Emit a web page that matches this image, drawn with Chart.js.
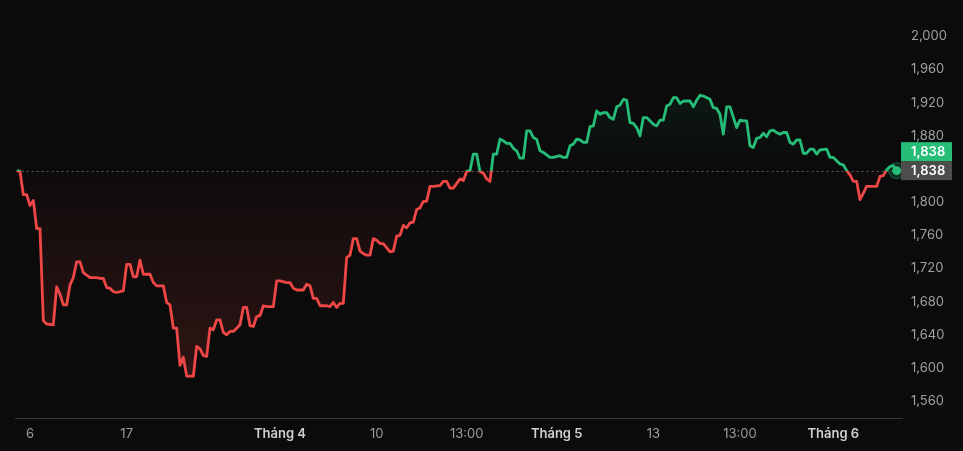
<!DOCTYPE html>
<html lang="vi">
<head>
<meta charset="utf-8">
<title>Biểu đồ giá</title>
<script src="https://cdn.jsdelivr.net/npm/chart.js@4.4.1/dist/chart.umd.min.js"></script>
<style>
    html, body { margin: 0; padding: 0; background: #0b0b0b; }
    .chart-wrap { position: relative; width: 963px; height: 451px; }
</style>
</head>
<body>
<div class="chart-wrap"><canvas id="priceChart"></canvas></div>
<script>
/* ========================================================================
   Price chart (baseline style) — data
   ======================================================================== */

// bar position on the time axis (one unit = one bar)
const barIndex = [
    0, 1, 2, 3, 4, 5, 6, 7, 8, 9,
    11, 12, 13, 14, 15, 16, 17, 18, 19, 20,
    22, 24, 25, 26, 27, 28, 29, 30, 32, 33,
    34, 35, 36, 37, 38, 40, 41, 42, 44, 45,
    46, 47, 48, 49, 50, 51, 53, 54, 55, 56,
    57, 58, 59, 60, 61, 62, 63, 64, 65, 66,
    67, 68, 69, 70, 71, 72, 73, 74, 75, 77,
    78, 79, 81, 82, 83, 84, 86, 87, 88, 89,
    90, 91, 93, 94, 95, 96, 97, 98, 99, 100,
    101, 102, 103, 104, 105, 106, 107, 108, 109, 110,
    112, 113, 114, 115, 116, 117, 118, 119, 120, 121,
    122, 123, 124, 125, 127, 128, 129, 130, 131, 133,
    134, 135, 136, 137, 138, 139, 140, 141, 142, 143,
    144, 145, 146, 147, 148, 149, 150, 151, 152, 153,
    154, 155, 156, 157, 158, 160, 161, 163, 164, 165,
    166, 167, 168, 169, 170, 171, 172, 173, 174, 175,
    176, 177, 178, 179, 180, 181, 182, 183, 184, 185,
    186, 187, 188, 189, 191, 192, 193, 194, 195, 196,
    197, 198, 199, 200, 202, 203, 204, 205, 206, 208,
    209, 210, 211, 212, 213, 214, 216, 217, 218, 219,
    220, 221, 222, 223, 224, 225, 226, 227, 228, 229,
    230, 231, 232, 233, 234, 235, 236, 237, 238, 239,
    240, 241, 243, 244, 245, 247, 248, 249, 250, 251,
    252, 253, 254, 255, 258, 259, 260, 261, 262, 263, 264
];

const prices = [
    1838, 1837, 1809, 1809, 1796, 1802, 1768, 1768, 1657, 1653,
    1652, 1698, 1689, 1676, 1676, 1700, 1709, 1728, 1728, 1715,
    1709, 1709, 1708, 1708, 1697, 1696, 1692, 1691, 1693, 1725,
    1725, 1710, 1710, 1730, 1713, 1713, 1703, 1699, 1699, 1679,
    1676, 1648, 1648, 1603, 1613, 1590, 1590, 1626, 1623, 1615,
    1614, 1648, 1646, 1658, 1658, 1643, 1640, 1644, 1644, 1648,
    1652, 1673, 1673, 1651, 1650, 1662, 1663, 1675, 1674, 1674,
    1705, 1705, 1703, 1703, 1696, 1694, 1694, 1701, 1699, 1684,
    1684, 1675, 1675, 1674, 1679, 1673, 1678, 1678, 1733, 1736,
    1756, 1756, 1741, 1738, 1736, 1736, 1756, 1754, 1750, 1750,
    1740, 1741, 1759, 1760, 1772, 1769, 1775, 1776, 1791, 1793,
    1801, 1801, 1819, 1819, 1820, 1825, 1825, 1817, 1817, 1828,
    1826, 1837, 1838, 1858, 1858, 1837, 1835, 1828, 1825, 1858,
    1858, 1876, 1874, 1871, 1871, 1865, 1862, 1853, 1853, 1886,
    1886, 1878, 1876, 1862, 1860, 1854, 1854, 1856, 1854, 1854,
    1868, 1870, 1876, 1875, 1872, 1872, 1891, 1892, 1910, 1906,
    1908, 1908, 1902, 1900, 1915, 1917, 1924, 1923, 1896, 1895,
    1890, 1880, 1902, 1902, 1894, 1892, 1899, 1899, 1916, 1918,
    1926, 1926, 1919, 1922, 1922, 1915, 1923, 1929, 1928, 1924,
    1914, 1913, 1906, 1882, 1915, 1915, 1890, 1899, 1898, 1898,
    1868, 1866, 1877, 1878, 1883, 1879, 1886, 1887, 1884, 1882,
    1884, 1884, 1872, 1870, 1875, 1875, 1859, 1859, 1864, 1864,
    1858, 1863, 1864, 1854, 1854, 1846, 1845, 1838, 1833, 1825,
    1825, 1803, 1811, 1819, 1819, 1831, 1832, 1839, 1843, 1844, 1838
];

const baseline = 1838;

const xTickPositions = [4, 33, 79, 108, 135, 162, 191, 217, 245];
const xTickLabels = ['6', '17', 'Tháng 4', '10', '13:00', 'Tháng 5', '13', '13:00', 'Tháng 6'];

const yTicks = [1560, 1600, 1640, 1680, 1720, 1760, 1800, 1880, 1920, 1960, 2000];

const GREEN = '#25bd78';
const RED = '#ef4646';

/* ========================================================================
   Helpers
   ======================================================================== */

function baseRatio(chart) {
    const { chartArea, scales } = chart;
    const y0 = scales.y.getPixelForValue(baseline);
    const t = (y0 - chartArea.top) / (chartArea.bottom - chartArea.top);
    return Math.min(1, Math.max(0, t));
}

function splitLineColor(ctx) {
    const chart = ctx.chart;
    if (!chart.chartArea) return GREEN;
    const { top, bottom } = chart.chartArea;
    const t = baseRatio(chart);
    const g = chart.ctx.createLinearGradient(0, top, 0, bottom);
    g.addColorStop(0, GREEN);
    g.addColorStop(t, GREEN);
    g.addColorStop(t, RED);
    g.addColorStop(1, RED);
    return g;
}

function splitFillColor(ctx) {
    const chart = ctx.chart;
    if (!chart.chartArea) return 'transparent';
    const { top, bottom } = chart.chartArea;
    const t = baseRatio(chart);
    const g = chart.ctx.createLinearGradient(0, top, 0, bottom);
    g.addColorStop(0, 'rgba(37,189,120,0.16)');
    g.addColorStop(t, 'rgba(37,189,120,0.0)');
    g.addColorStop(t, 'rgba(239,70,70,0.02)');
    g.addColorStop(1, 'rgba(239,70,70,0.19)');
    return g;
}

// dashed baseline, under the line
const baselinePlugin = {
    id: 'baselinePlugin',
    beforeDatasetsDraw(chart) {
        const { ctx, chartArea, scales } = chart;
        const y = Math.round(scales.y.getPixelForValue(baseline)) + 0.5;
        ctx.save();
        ctx.strokeStyle = '#5c5c5c';
        ctx.lineWidth = 1;
        ctx.setLineDash([2, 3]);
        ctx.beginPath();
        ctx.moveTo(scales.x.getPixelForValue(barIndex[0]), y);
        ctx.lineTo(chartArea.right, y);
        ctx.stroke();
        ctx.restore();
    }
};

// last point marker + price tags on the right axis
const lastPricePlugin = {
    id: 'lastPricePlugin',
    afterDatasetsDraw(chart) {
        const { ctx } = chart;
        const pts = chart.getDatasetMeta(0).data;
        const p = pts[pts.length - 1];
        ctx.save();
        ctx.beginPath();
        ctx.arc(p.x, p.y, 8, 0, Math.PI * 2);
        ctx.fillStyle = 'rgba(37,189,120,0.18)';
        ctx.fill();
        ctx.strokeStyle = 'rgba(37,189,120,0.45)';
        ctx.lineWidth = 1;
        ctx.stroke();
        ctx.beginPath();
        ctx.arc(p.x, p.y, 4.5, 0, Math.PI * 2);
        ctx.fillStyle = GREEN;
        ctx.fill();
        ctx.restore();
    },
    afterDraw(chart) {
        const { ctx, chartArea, scales } = chart;
        const yBase = scales.y.getPixelForValue(baseline);
        const last = prices[prices.length - 1];
        const x = chartArea.right - 1;
        const w = 51, h = 19;
        const label = v => v.toLocaleString('en-US');
        ctx.save();
        ctx.fillStyle = '#4d4d4d';
        ctx.fillRect(x, yBase - h / 2, w, h);
        ctx.fillStyle = GREEN;
        ctx.fillRect(x, yBase - h / 2 - h, w, h);
        ctx.fillStyle = '#ffffff';
        ctx.font = '600 13px Inter';
        ctx.textBaseline = 'middle';
        ctx.textAlign = 'left';
        ctx.fillText(label(baseline), chartArea.right + 9, yBase + 0.5);
        ctx.fillText(label(last), chartArea.right + 9, yBase - h + 0.5);
        ctx.restore();
    }
};

/* ========================================================================
   Chart
   ======================================================================== */

document.addEventListener('DOMContentLoaded', () => {
    renderPriceChart();
});

function renderPriceChart() {
    const el = document.getElementById('priceChart');
    if (!el) return;
    new Chart(el, {
        type: 'line',
        data: {
            datasets: [{
                data: barIndex.map((b, i) => ({ x: b, y: prices[i] })),
                borderColor: splitLineColor,
                backgroundColor: splitFillColor,
                fill: { value: baseline },
                borderWidth: 2.8,
                borderJoinStyle: 'round',
                tension: 0,
                pointRadius: 0,
                pointHoverRadius: 0
            }]
        },
        options: {
            responsive: true,
            maintainAspectRatio: false,
            animation: false,
            layout: { padding: { left: 15, top: 0, right: 0, bottom: 0 } },
            plugins: { legend: { display: false }, tooltip: { enabled: false } },
            scales: {
                x: {
                    type: 'linear',
                    min: -0.5,
                    max: 265.6,
                    grid: { display: false, drawTicks: false },
                    border: { display: true, color: '#383838', width: 1 },
                    afterBuildTicks: s => { s.ticks = xTickPositions.map(v => ({ value: v })); },
                    afterFit: s => { s.height = 33; },
                    ticks: {
                        autoSkip: false,
                        maxRotation: 0,
                        padding: 8,
                        callback: (v, i) => xTickLabels[i],
                        color: c => xTickLabels[c.index] && xTickLabels[c.index].startsWith('Tháng') ? '#cfcfcf' : '#9c9c9c',
                        font: c => ({
                            family: 'Inter', size: 13,
                            weight: xTickLabels[c.index] && xTickLabels[c.index].startsWith('Tháng') ? '600' : '400'
                        })
                    }
                },
                y: {
                    position: 'right',
                    min: 1539.6,
                    max: 2023.6,
                    grid: { display: false, drawTicks: false },
                    border: { display: false },
                    afterBuildTicks: s => { s.ticks = yTicks.map(v => ({ value: v })); },
                    afterFit: s => { s.width = 61; },
                    ticks: {
                        padding: 9,
                        color: '#a0a0a0',
                        font: { family: 'Inter', size: 13 },
                        callback: v => v.toLocaleString('en-US')
                    }
                }
            }
        },
        plugins: [baselinePlugin, lastPricePlugin]
    });
}
</script>
</body>
</html>
